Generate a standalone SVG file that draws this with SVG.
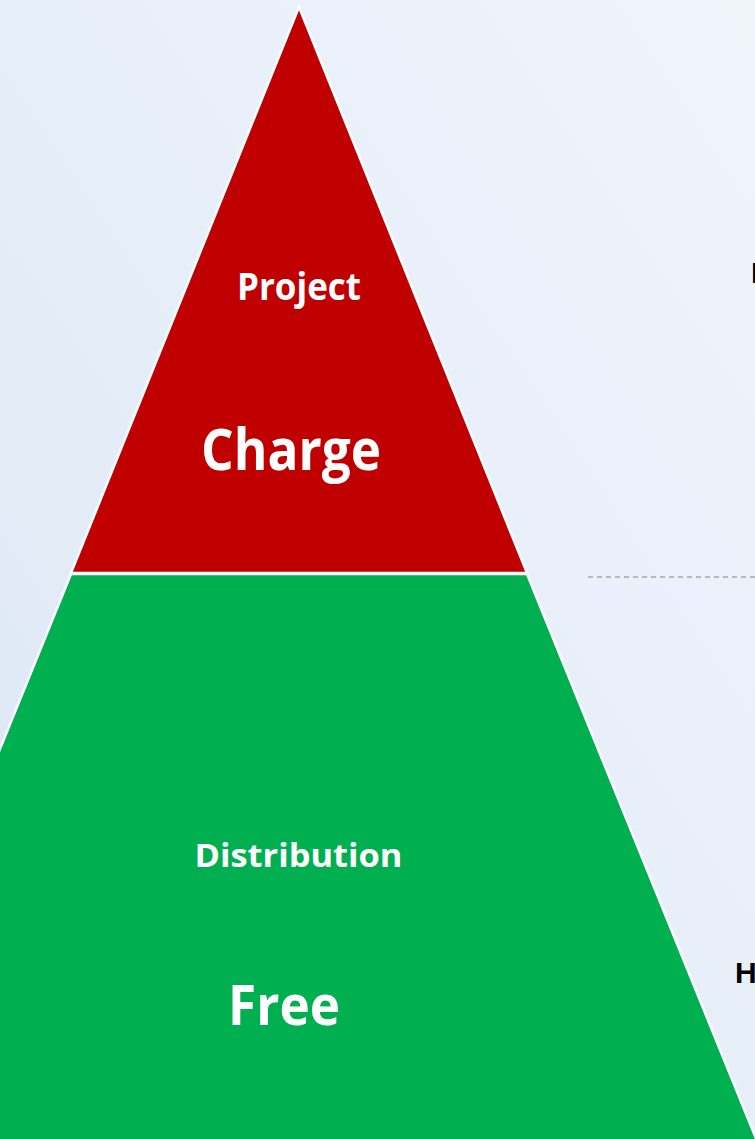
<svg xmlns="http://www.w3.org/2000/svg" width="755" height="1139" viewBox="0 0 755 1139">
  <defs>
    <linearGradient id="bg" x1="0" y1="1" x2="1" y2="0">
      <stop offset="0" stop-color="#DCE7F4"/>
      <stop offset="1" stop-color="#F0F5FC"/>
    </linearGradient>
  </defs>
  <style>
    .lbl { font-family: "Open Sans", "Liberation Sans", sans-serif; font-weight: 700; fill: #FFFFFF; text-anchor: middle; }
    .side { font-family: "Liberation Sans", Arial, sans-serif; font-weight: 700; fill: #000000; font-size: 30px; }
    .tier { stroke: #FFFFFF; stroke-width: 2.5; stroke-linejoin: miter; }
  </style>
  <rect x="0" y="0" width="755" height="1139" fill="url(#bg)"/>
  <g id="connectors">
    <line x1="588" y1="577" x2="755" y2="577" stroke="#A6A6A6" stroke-width="1.5" stroke-dasharray="5 4"/>
  </g>
  <g id="tier-distribution">
    <polygon class="tier" fill="#00B050" points="71,574 527,574 757,1141 -159,1141"/>
    <text class="lbl" x="298.5" y="867" font-size="33" textLength="208" lengthAdjust="spacingAndGlyphs">Distribution</text>
    <text class="lbl" x="284" y="1025" font-size="56" textLength="112" lengthAdjust="spacingAndGlyphs">Free</text>
  </g>
  <g id="tier-project">
    <polygon class="tier" fill="#C00000" points="299,7 527,573 71,573"/>
    <text class="lbl" x="299" y="300" font-size="37" textLength="124" lengthAdjust="spacingAndGlyphs">Project</text>
    <text class="lbl" x="291" y="470" font-size="58" textLength="180" lengthAdjust="spacingAndGlyphs">Charge</text>
  </g>
  <g id="side-labels">
    <text class="side" x="751" y="283">L</text>
    <text class="side" x="735" y="983">H</text>
  </g>
</svg>
